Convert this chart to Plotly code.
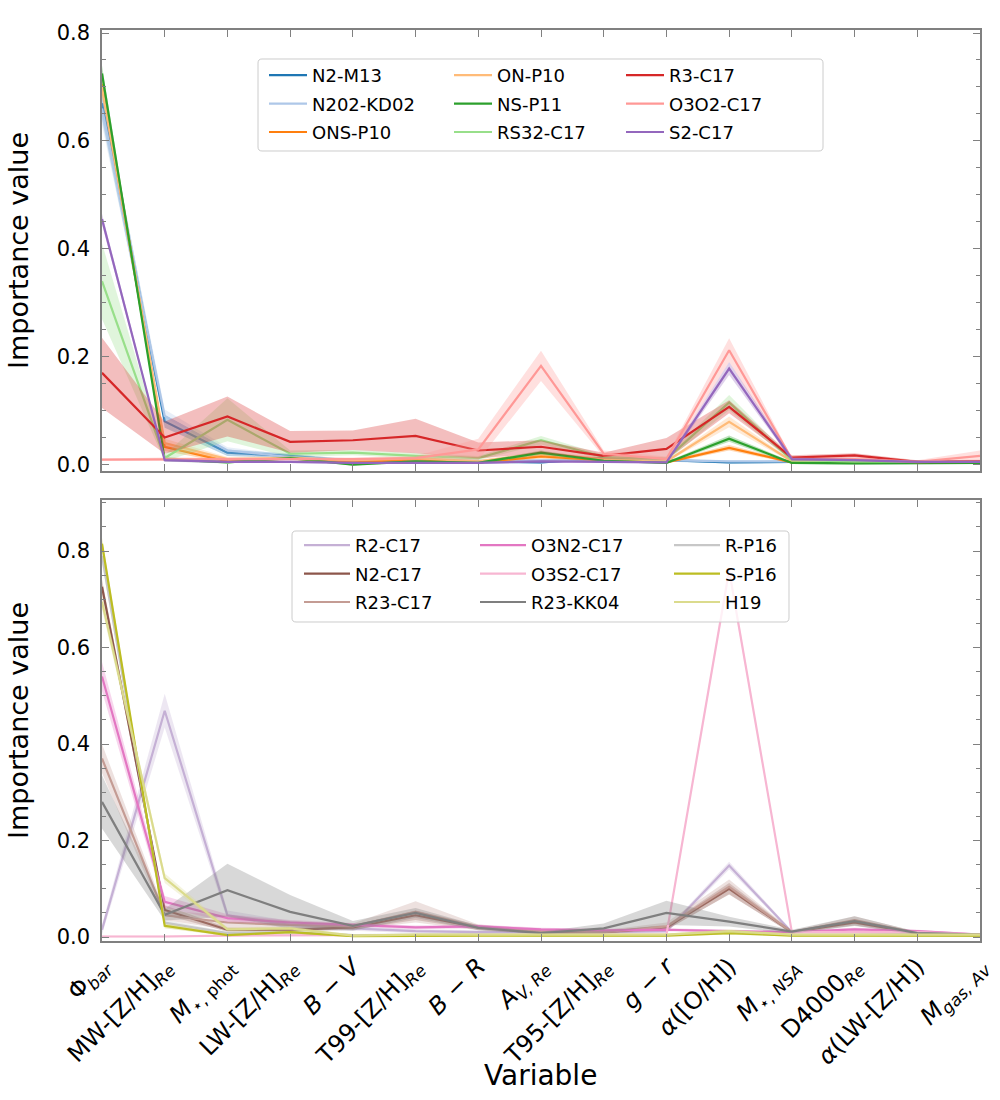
import plotly.graph_objects as go

# ---------------- data ----------------
variables = ["Φ<sub><i>bar</i></sub>", "MW-[Z/H]<sub><i>Re</i></sub>", "<i>M</i><sub>⋆, phot</sub>",
             "LW-[Z/H]<sub><i>Re</i></sub>", "<i>B</i> − <i>V</i>", "T99-[Z/H]<sub><i>Re</i></sub>",
             "<i>B</i> − <i>R</i>", "<i>A</i><sub><i>V, Re</i></sub>", "T95-[Z/H]<sub><i>Re</i></sub>",
             "<i>g</i> − <i>r</i>", "<i>α</i>([O/H])", "<i>M</i><sub>⋆, <i>NSA</i></sub>",
             "D4000<sub><i>Re</i></sub>", "<i>α</i>(LW-[Z/H])", "<i>M</i><sub><i>gas, Av</i></sub>"]

# top panel
n2_m13      = [0.670, 0.080, 0.022, 0.016, 0.006, 0.006, 0.006, 0.004, 0.012, 0.008, 0.004, 0.005, 0.005, 0.005, 0.004]
n2_m13_err  = [0.030, 0.012, 0.006, 0.004, 0.003, 0.003, 0.003, 0.002, 0.003, 0.003, 0.002, 0.002, 0.002, 0.002, 0.002]
n2o2_kd02     = [0.660, 0.090, 0.026, 0.014, 0.008, 0.008, 0.006, 0.008, 0.010, 0.008, 0.006, 0.006, 0.006, 0.005, 0.004]
n2o2_kd02_err = [0.030, 0.012, 0.006, 0.004, 0.003, 0.003, 0.003, 0.003, 0.003, 0.003, 0.002, 0.002, 0.002, 0.002, 0.002]
ons_p10     = [0.705, 0.033, 0.006, 0.012, 0.004, 0.010, 0.004, 0.015, 0.008, 0.004, 0.031, 0.004, 0.004, 0.003, 0.003]
ons_p10_err = [0.020, 0.008, 0.003, 0.003, 0.002, 0.003, 0.002, 0.004, 0.003, 0.002, 0.005, 0.002, 0.002, 0.002, 0.002]
on_p10      = [0.700, 0.040, 0.010, 0.012, 0.008, 0.012, 0.006, 0.020, 0.010, 0.006, 0.079, 0.006, 0.005, 0.004, 0.004]
on_p10_err  = [0.020, 0.008, 0.004, 0.003, 0.003, 0.003, 0.003, 0.004, 0.003, 0.002, 0.010, 0.002, 0.002, 0.002, 0.002]
ns_p11      = [0.725, 0.010, 0.004, 0.012, 0.000, 0.006, 0.003, 0.022, 0.007, 0.003, 0.048, 0.003, 0.002, 0.003, 0.003]
ns_p11_err  = [0.015, 0.004, 0.002, 0.003, 0.002, 0.002, 0.002, 0.004, 0.002, 0.002, 0.006, 0.002, 0.002, 0.002, 0.002]
rs32_c17     = [0.340, 0.012, 0.083, 0.020, 0.022, 0.016, 0.012, 0.045, 0.014, 0.010, 0.115, 0.008, 0.006, 0.005, 0.005]
rs32_c17_err = [0.070, 0.006, 0.040, 0.006, 0.005, 0.005, 0.004, 0.008, 0.004, 0.004, 0.014, 0.003, 0.002, 0.002, 0.002]
r3_c17      = [0.170, 0.050, 0.089, 0.042, 0.045, 0.053, 0.026, 0.033, 0.016, 0.029, 0.107, 0.013, 0.017, 0.005, 0.006]
r3_c17_err  = [0.065, 0.030, 0.037, 0.020, 0.018, 0.032, 0.015, 0.012, 0.006, 0.020, 0.012, 0.004, 0.004, 0.003, 0.003]
o3o2_c17     = [0.009, 0.010, 0.010, 0.010, 0.010, 0.012, 0.028, 0.183, 0.020, 0.010, 0.212, 0.010, 0.010, 0.005, 0.016]
o3o2_c17_err = [0.002, 0.003, 0.003, 0.003, 0.003, 0.004, 0.020, 0.028, 0.006, 0.005, 0.022, 0.003, 0.003, 0.003, 0.010]
s2_c17      = [0.455, 0.008, 0.005, 0.005, 0.003, 0.003, 0.003, 0.006, 0.005, 0.004, 0.178, 0.010, 0.008, 0.005, 0.005]
s2_c17_err  = [0.010, 0.003, 0.002, 0.002, 0.002, 0.002, 0.002, 0.002, 0.002, 0.002, 0.012, 0.003, 0.002, 0.002, 0.002]

# bottom panel
r2_c17      = [0.015, 0.469, 0.045, 0.025, 0.018, 0.012, 0.010, 0.010, 0.010, 0.012, 0.148, 0.010, 0.010, 0.008, 0.005]
r2_c17_err  = [0.010, 0.035, 0.010, 0.008, 0.005, 0.004, 0.004, 0.004, 0.004, 0.004, 0.008, 0.003, 0.003, 0.003, 0.002]
n2_c17      = [0.726, 0.056, 0.015, 0.015, 0.020, 0.045, 0.020, 0.010, 0.010, 0.020, 0.100, 0.010, 0.030, 0.008, 0.005]
n2_c17_err  = [0.015, 0.010, 0.004, 0.004, 0.005, 0.010, 0.005, 0.003, 0.003, 0.005, 0.012, 0.003, 0.006, 0.003, 0.002]
r23_c17     = [0.370, 0.045, 0.030, 0.025, 0.022, 0.052, 0.020, 0.012, 0.010, 0.022, 0.104, 0.010, 0.035, 0.008, 0.005]
r23_c17_err = [0.030, 0.010, 0.015, 0.008, 0.006, 0.022, 0.006, 0.004, 0.004, 0.008, 0.015, 0.003, 0.008, 0.003, 0.002]
o3n2_c17     = [0.540, 0.073, 0.039, 0.030, 0.025, 0.020, 0.022, 0.016, 0.014, 0.015, 0.012, 0.010, 0.016, 0.012, 0.005]
o3n2_c17_err = [0.030, 0.012, 0.008, 0.005, 0.004, 0.004, 0.004, 0.003, 0.003, 0.003, 0.003, 0.003, 0.003, 0.003, 0.002]
o3s2_c17     = [0.001, 0.001, 0.003, 0.004, 0.004, 0.004, 0.004, 0.004, 0.004, 0.005, 0.760, 0.010, 0.010, 0.010, 0.005]
o3s2_c17_err = [0.002, 0.002, 0.002, 0.002, 0.002, 0.002, 0.002, 0.002, 0.002, 0.002, 0.010, 0.003, 0.003, 0.003, 0.002]
r23_kk04     = [0.280, 0.046, 0.097, 0.052, 0.023, 0.050, 0.019, 0.008, 0.018, 0.050, 0.032, 0.011, 0.033, 0.008, 0.005]
r23_kk04_err = [0.055, 0.012, 0.055, 0.035, 0.010, 0.010, 0.005, 0.003, 0.010, 0.025, 0.010, 0.004, 0.010, 0.003, 0.002]
r_p16       = [0.790, 0.030, 0.008, 0.010, 0.004, 0.005, 0.005, 0.004, 0.004, 0.004, 0.010, 0.004, 0.004, 0.004, 0.003]
r_p16_err   = [0.015, 0.006, 0.003, 0.003, 0.002, 0.002, 0.002, 0.002, 0.002, 0.002, 0.003, 0.002, 0.002, 0.002, 0.002]
s_p16       = [0.815, 0.023, 0.004, 0.010, 0.002, 0.003, 0.003, 0.003, 0.003, 0.003, 0.008, 0.003, 0.003, 0.003, 0.003]
s_p16_err   = [0.012, 0.005, 0.002, 0.003, 0.002, 0.002, 0.002, 0.002, 0.002, 0.002, 0.003, 0.002, 0.002, 0.002, 0.002]
h19         = [0.695, 0.122, 0.016, 0.018, 0.003, 0.005, 0.005, 0.005, 0.005, 0.005, 0.012, 0.005, 0.005, 0.005, 0.005]
h19_err     = [0.015, 0.010, 0.004, 0.004, 0.002, 0.002, 0.002, 0.002, 0.002, 0.002, 0.004, 0.002, 0.002, 0.002, 0.002]

top_labels = ["N2-M13", "N202-KD02", "ONS-P10", "ON-P10", "NS-P11", "RS32-C17", "R3-C17", "O3O2-C17", "S2-C17"]
top_vals   = [n2_m13, n2o2_kd02, ons_p10, on_p10, ns_p11, rs32_c17, r3_c17, o3o2_c17, s2_c17]
top_errs   = [n2_m13_err, n2o2_kd02_err, ons_p10_err, on_p10_err, ns_p11_err, rs32_c17_err, r3_c17_err, o3o2_c17_err, s2_c17_err]
top_colors = ["#1f77b4", "#aec7e8", "#ff7f0e", "#ffbb78", "#2ca02c", "#98df8a", "#d62728", "#ff9896", "#9467bd"]

bot_labels = ["R2-C17", "N2-C17", "R23-C17", "O3N2-C17", "O3S2-C17", "R23-KK04", "R-P16", "S-P16", "H19"]
bot_vals   = [r2_c17, n2_c17, r23_c17, o3n2_c17, o3s2_c17, r23_kk04, r_p16, s_p16, h19]
bot_errs   = [r2_c17_err, n2_c17_err, r23_c17_err, o3n2_c17_err, o3s2_c17_err, r23_kk04_err, r_p16_err, s_p16_err, h19_err]
bot_colors = ["#c5b0d5", "#8c564b", "#c49c94", "#e377c2", "#f7b6d2", "#7f7f7f", "#c7c7c7", "#bcbd22", "#dbdb8d"]

# ---------------- figure ----------------
FONT = "DejaVu Sans"
W, H = 1000, 1100
ML, MR, MT, MB = 102, 20, 30, 159
PW, PH = W - ML - MR, H - MT - MB


def px2x(px):
    return (px - ML) / PW


def px2y(py):
    return (H - MB - py) / PH


def rgba(hx, a):
    hx = hx.lstrip("#")
    return "rgba(%d,%d,%d,%.2f)" % (int(hx[0:2], 16), int(hx[2:4], 16), int(hx[4:6], 16), a)


xs = list(range(len(variables)))
fig = go.Figure()


def add_panel(labels, vals, errs, colors, xa, ya, legends):
    for i, (lab, v, e, c) in enumerate(zip(labels, vals, errs, colors)):
        up = [a + b for a, b in zip(v, e)]
        lo = [a - b for a, b in zip(v, e)]
        fig.add_trace(go.Scatter(x=xs, y=up, mode="lines", line=dict(width=0, color=c),
                                 showlegend=False, hoverinfo="skip", xaxis=xa, yaxis=ya))
        fig.add_trace(go.Scatter(x=xs, y=lo, mode="lines", line=dict(width=0, color=c),
                                 fill="tonexty", fillcolor=rgba(c, 0.3),
                                 showlegend=False, hoverinfo="skip", xaxis=xa, yaxis=ya))
        fig.add_trace(go.Scatter(x=xs, y=v, mode="lines", name=lab, line=dict(width=2.2, color=c),
                                 xaxis=xa, yaxis=ya, legend=legends[i // 3],
                                 legendgroup=lab))


add_panel(top_labels, top_vals, top_errs, top_colors, "x", "y", ["legend", "legend2", "legend3"])
add_panel(bot_labels, bot_vals, bot_errs, bot_colors, "x2", "y2", ["legend4", "legend5", "legend6"])

top_dom = [px2y(471), 1.0]
bot_dom = [0.0, px2y(500)]

axcol = "#808080"
common_x = dict(range=[0, 14], tickmode="array", tickvals=xs, ticks="inside", ticklen=7,
                tickcolor=axcol, tickwidth=1, showline=True, linecolor=axcol, linewidth=1.5,
                mirror="ticks", showgrid=False, zeroline=False)
common_y = dict(tickmode="array", tickvals=[0, 0.2, 0.4, 0.6, 0.8], ticktext=["0.0", "0.2", "0.4", "0.6", "0.8"],
                ticks="inside", ticklen=7, tickcolor=axcol, tickwidth=1, showline=True,
                linecolor=axcol, linewidth=1.5, mirror="ticks", showgrid=False, zeroline=False,
                minor=dict(dtick=0.05, tick0=0, ticks="inside", ticklen=4, tickcolor=axcol, showgrid=False),
                tickfont=dict(size=21, family=FONT, color="black"), ticklabelstandoff=6,
                title=dict(text="Importance value", font=dict(size=27, family=FONT, color="black"), standoff=20))

fig.update_layout(
    xaxis=dict(common_x, domain=[0, 1], anchor="y", showticklabels=False, matches="x2"),
    yaxis=dict(common_y, domain=top_dom, anchor="x", range=[-0.012, 0.8056]),
    xaxis2=dict(common_x, domain=[0, 1], anchor="y2", showticklabels=True, ticktext=variables,
                tickangle=-45, tickfont=dict(size=24, family=FONT, color="black")),
    yaxis2=dict(common_y, domain=bot_dom, anchor="x2", range=[-0.0083, 0.9057]),
    width=W, height=H,
    margin=dict(l=ML, r=MR, t=MT, b=MB, autoexpand=False),
    plot_bgcolor="white", paper_bgcolor="white",
    font=dict(family=FONT, color="black"),
)

# x-axis title
fig.add_annotation(text="Variable", xref="paper", yref="paper", x=px2x(540), y=px2y(1075),
                   xanchor="center", yanchor="middle", showarrow=False,
                   font=dict(size=28, family=FONT, color="black"))

# legends (3 columns per panel)
leg_top = dict(bgcolor="rgba(0,0,0,0)", borderwidth=0, font=dict(size=18, family=FONT, color="black"),
               xanchor="left", yanchor="top", orientation="v", itemwidth=38,
               traceorder="grouped", tracegroupgap=2)
leg_bot = dict(leg_top, itemwidth=46)
fig.update_layout(
    legend=dict(leg_top, x=px2x(264), y=px2y(57)),
    legend2=dict(leg_top, x=px2x(449), y=px2y(57)),
    legend3=dict(leg_top, x=px2x(621), y=px2y(57)),
    legend4=dict(leg_bot, x=px2x(299), y=px2y(527)),
    legend5=dict(leg_bot, x=px2x(475), y=px2y(527)),
    legend6=dict(leg_bot, x=px2x(669), y=px2y(527)),
)


# legend frames (rounded corners)
def rounded_path(x0, y0, x1, y1, r=4):
    pts = [
        ("M", x0 + r, y0), ("L", x1 - r, y0), ("Q", x1, y0, x1, y0 + r),
        ("L", x1, y1 - r), ("Q", x1, y1, x1 - r, y1), ("L", x0 + r, y1),
        ("Q", x0, y1, x0, y1 - r), ("L", x0, y0 + r), ("Q", x0, y0, x0 + r, y0),
    ]
    out = []
    for p in pts:
        cmd = p[0]
        coords = p[1:]
        conv = []
        for k in range(0, len(coords), 2):
            conv.append("%.6f,%.6f" % (px2x(coords[k]), px2y(coords[k + 1])))
        out.append(cmd + " ".join(conv))
    return " ".join(out) + " Z"


for (x0, y0, x1, y1) in [(258, 59, 823, 151), (292, 531, 789, 622)]:
    fig.add_shape(type="path", xref="paper", yref="paper", path=rounded_path(x0, y0, x1, y1),
                  line=dict(color="#cccccc", width=1), fillcolor="rgba(255,255,255,0.8)", layer="above")

fig.write_html("out.html", config={"displayModeBar": False},
               post_script="document.body.style.margin='0';document.body.style.overflow='hidden';")
